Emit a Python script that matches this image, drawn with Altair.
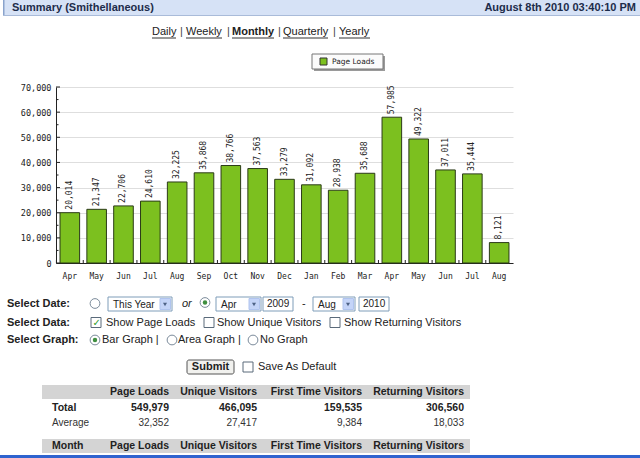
import altair as alt
import pandas as pd

# ---- chart data -------------------------------------------------------
months = ["Apr", "May", "Jun", "Jul", "Aug", "Sep", "Oct", "Nov", "Dec",
          "Jan", "Feb", "Mar", "Apr", "May", "Jun", "Jul", "Aug"]
years = [2009, 2009, 2009, 2009, 2009, 2009, 2009, 2009, 2009,
         2010, 2010, 2010, 2010, 2010, 2010, 2010, 2010]
page_loads = [20014, 21347, 22706, 24610, 32225, 35868, 38766, 37563, 33279,
              31092, 28938, 35688, 57985, 49322, 37011, 35444, 8121]

y_major = [0, 10000, 20000, 30000, 40000, 50000, 60000, 70000]
y_minor = [5000, 15000, 25000, 35000, 45000, 55000, 65000]

# ---- summary table data ----------------------------------------------
table_headers = ["Page Loads", "Unique Visitors", "First Time Visitors", "Returning Visitors"]
totals = [549979, 466095, 159535, 306560]
averages = [32352, 27417, 9384, 18033]

keys = [f"{m} {y}" for m, y in zip(months, years)]
df = pd.DataFrame({"key": keys, "month": months, "year": years, "loads": page_loads})

# ---- layout ------------------------------------------------------------
OX, OY = 56, 87          # plot origin on the page
W, H = 457, 176          # plot area
MONO = "DejaVu Sans Mono"
UI = "Liberation Sans"
GREEN = "#7cc01f"
ONE = alt.Data(values=[{}])


def X(px):
    return px - OX


def Y(py):
    return py - OY


def txt(s, x, y, size=11, bold=False, italic=False, align="left", color="#222", font=UI):
    kw = dict(text=s, align=align, baseline="middle", fontSize=size, font=font, color=color)
    if bold:
        kw["fontWeight"] = "bold"
    if italic:
        kw["fontStyle"] = "italic"
    return alt.Chart(ONE).mark_text(**kw).encode(x=alt.value(X(x)), y=alt.value(Y(y)))


def rect(x1, y1, x2, y2, fill, stroke=None, sw=1, r=0):
    kw = dict(fill=fill)
    if stroke:
        kw.update(stroke=stroke, strokeWidth=sw)
    if r:
        kw["cornerRadius"] = r
    return alt.Chart(ONE).mark_rect(**kw).encode(
        x=alt.value(X(x1)), x2=alt.value(X(x2)), y=alt.value(Y(y1)), y2=alt.value(Y(y2)))


def hline(x1, x2, y, color="#222", sw=1):
    return alt.Chart(ONE).mark_rule(color=color, strokeWidth=sw).encode(
        x=alt.value(X(x1)), x2=alt.value(X(x2)), y=alt.value(Y(y)))


def circ(x, y, r, fill, stroke=None):
    kw = dict(fill=fill, opacity=1, size=3.1416 * r * r)
    if stroke:
        kw.update(stroke=stroke, strokeWidth=1)
    return alt.Chart(ONE).mark_circle(**kw).encode(x=alt.value(X(x)), y=alt.value(Y(y)))


def radio(x, y, checked=False):
    parts = [circ(x, y, 5.5, "white", "#7a8a9a")]
    if checked:
        parts.append(circ(x, y, 2.5, "#3f8f3f"))
    return parts


def checkbox(x1, y1, checked=False):
    parts = [rect(x1, y1, x1 + 10, y1 + 10, "white", "#5a6a7a")]
    if checked:
        parts.append(txt("✓", x1 + 1.5, y1 + 5, size=10, bold=True, color="#2e9e2e", font="DejaVu Sans"))
    return parts


def select(x1, x2, y1, y2, label):
    return [
        rect(x1, y1, x2, y2, "white", "#7f9db9"),
        rect(x2 - 12, y1 + 1.5, x2 - 1.5, y2 - 1.5, "#c4d4f8", "#b0c4ee"),
        alt.Chart(ONE).mark_point(shape="triangle-down", filled=True, fill="#4d6185", size=16, opacity=1)
        .encode(x=alt.value(X(x2 - 7)), y=alt.value(Y((y1 + y2) / 2 + 0.5))),
        txt(label, x1 + 5, (y1 + y2) / 2 + 0.5, size=10),
    ]


layers = []

# ---- page header ----------------------------------------------------------
layers += [
    rect(3, 0, 640, 16, "#d6e2f6"),
    rect(3, 0, 4.5, 16, "#8aa3cc"),
    hline(3, 640, 15.5, "#a9bbd9"),
    txt("Summary (Smithellaneous)", 12, 8, size=11, bold=True, color="#1d2c4a"),
    txt("August 8th 2010 03:40:10 PM", 636, 8, size=11, bold=True, align="right", color="#1d2c4a"),
]

# ---- period links ---------------------------------------------------------
link_items = [("Daily", 152, 24, False), ("Weekly", 186, 36, False), ("Monthly", 232, 42, True),
              ("Quarterly", 283, 45, False), ("Yearly", 339, 31, False)]
for word, x, w, bold in link_items:
    layers.append(txt(word, x, 32, size=11, bold=bold))
    layers.append(hline(x, x + w, 38, "#333"))
for x in [180, 227, 278, 333]:
    layers.append(txt("|", x, 32, size=11, color="#444"))

# ---- legend ---------------------------------------------------------------
layers += [
    rect(314, 56, 385, 71, "#9a9a9a"),
    rect(312, 54, 383, 69, "#fbfbfb", "#777"),
    rect(320, 58, 327, 65, GREEN, "#333"),
    txt("Page Loads", 332, 61.5, size=7.5, font="DejaVu Sans", color="#222"),
]

# ---- bar chart ------------------------------------------------------------
x_scale = alt.Scale(paddingInner=0.27, paddingOuter=0.15)
x_axis = alt.Axis(title=None, labelExpr="split(datum.label, ' ')[0]", labelAngle=0, ticks=False,
                  labelPadding=9, labelFont=MONO, labelFontSize=8, labelColor="#222",
                  domainColor="#222", domainWidth=1)
y_scale = alt.Scale(domain=[0, 70000], nice=False)
y_axis = alt.Axis(title=None, values=y_major, labelExpr="format(datum.value, ',')", ticks=False,
                  labelPadding=5, labelFont=MONO, labelFontSize=8.5, labelColor="#222",
                  gridColor="#dedede", domainColor="#222", domainWidth=1)

x_enc = alt.X("key:N", sort=keys, scale=x_scale, axis=x_axis)
y_enc = alt.Y("loads:Q", scale=y_scale, axis=y_axis)

bars = alt.Chart(df).mark_bar(fill=GREEN, stroke="#2b3a18", strokeWidth=1).encode(x=x_enc, y=y_enc)
values = alt.Chart(df).mark_text(angle=270, align="left", baseline="middle", dx=3,
                                 font=MONO, fontSize=8, color="#222").encode(
    x=x_enc, y=y_enc, text=alt.Text("loads:Q", format=","))

# inward ticks on the value axis (major and minor)
major_ticks = alt.Chart(pd.DataFrame({"loads": y_major})).mark_rule(color="#222").encode(
    y=y_enc, x=alt.value(0), x2=alt.value(4))
minor_ticks = alt.Chart(pd.DataFrame({"loads": y_minor})).mark_rule(color="#222").encode(
    y=y_enc, x=alt.value(0), x2=alt.value(2.5))
# inward ticks between the month bands
x_ticks = alt.Chart(df).mark_rule(color="#222").encode(
    x=alt.X("key:N", sort=keys, bandPosition=0, scale=x_scale, axis=x_axis),
    xOffset=alt.value(-3.6),
    y=alt.value(H), y2=alt.value(H - 3))

layers += [bars, values, major_ticks, minor_ticks, x_ticks]

# ---- form controls --------------------------------------------------------
r1, r2, r3 = 303.5, 322.5, 340
layers += [
    txt("Select Date:", 7, r1, bold=True),
    txt("Select Data:", 7, r2, bold=True),
    txt("Select Graph:", 7, r3, bold=True),
]
layers += radio(95, r1)
layers += select(108, 172, 297, 311, "This Year")
layers.append(txt("or", 182, r1, italic=True))
layers += radio(205, r1 - 1, checked=True)
layers += select(216, 261, 297, 311, "Apr")
layers += [rect(263, 297, 293, 311, "white", "#7f9db9"), txt("2009", 267, r1 + 0.5, size=10)]
layers.append(txt("-", 302, r1))
layers += select(313, 355, 297, 311, "Aug")
layers += [rect(359, 297, 389, 311, "white", "#7f9db9"), txt("2010", 363, r1 + 0.5, size=10)]

layers += checkbox(91, r2 - 5, checked=True)
layers.append(txt("Show Page Loads", 106, r2))
layers += checkbox(204, r2 - 5)
layers.append(txt("Show Unique Visitors", 217, r2))
layers += checkbox(330, r2 - 5)
layers.append(txt("Show Returning Visitors", 344, r2))

layers += radio(95, r3, checked=True)
layers.append(txt("Bar Graph |", 102, r3))
layers += radio(172, r3)
layers.append(txt("Area Graph |", 178, r3))
layers += radio(253, r3)
layers.append(txt("No Graph", 260, r3))

layers += [
    rect(187, 360, 234, 374, "#f1f1ee", "#555", r=2),
    txt("Submit", 210.5, 367, bold=True, align="center"),
]
layers += checkbox(243, 362)
layers.append(txt("Save As Default", 258, 367))

# ---- summary table --------------------------------------------------------
col_right = [169, 257, 362, 464]
layers.append(rect(42, 385, 470, 399, "#d4d4d4"))
for h, xr in zip(table_headers, col_right):
    layers.append(txt(h, xr, 392, size=10.5, bold=True, align="right"))
layers.append(txt("Total", 52, 408, size=10.5, bold=True))
for v, xr in zip(totals, col_right):
    layers.append(txt(f"{v:,}", xr, 408, size=10.5, bold=True, align="right"))
layers.append(txt("Average", 52, 423, size=10, color="#333"))
for v, xr in zip(averages, col_right):
    layers.append(txt(f"{v:,}", xr, 423, size=10, align="right", color="#333"))
layers.append(rect(42, 439, 470, 453, "#d4d4d4"))
layers.append(txt("Month", 52, 446, size=10.5, bold=True))
for h, xr in zip(table_headers, col_right):
    layers.append(txt(h, xr, 446, size=10.5, bold=True, align="right"))

layers.append(rect(0, 455, 640, 458, "#2f63cf"))

chart = (
    alt.layer(*layers)
    .properties(
        width=W, height=H,
        autosize=alt.AutoSizeParams(type="none"),
        padding={"left": OX, "top": OY, "right": 640 - OX - W, "bottom": 458 - OY - H},
    )
    .configure(background="white")
    .configure_view(strokeWidth=0)
)

chart.save("out.html", embed_options={"renderer": "svg", "actions": False})
